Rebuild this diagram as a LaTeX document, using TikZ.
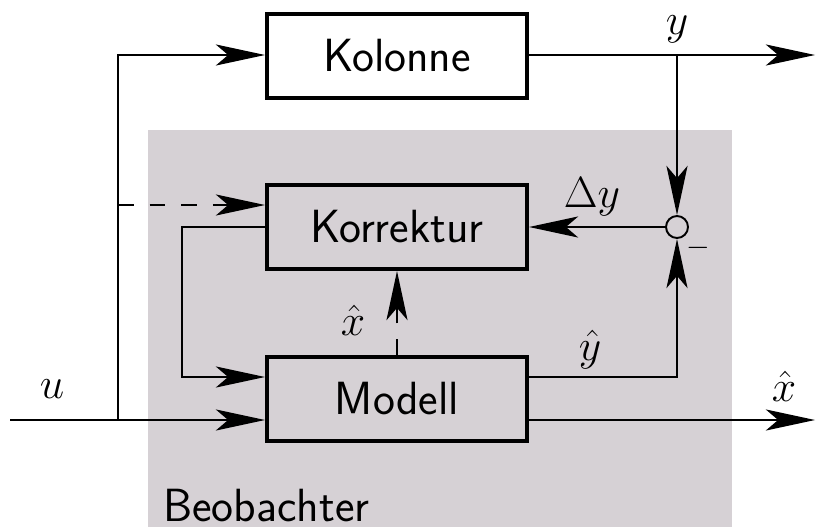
\documentclass[tikz,border=0pt]{standalone}
\usepackage{amsmath}
\usepackage{xcolor}
\usepackage{tikz}
\usetikzlibrary{arrows.meta,calc}
\definecolor{obsgray}{RGB}{214,209,213}

\begin{document}
\begin{tikzpicture}[x=0.02cm,y=-0.02cm,
	>={Stealth[length=28pt,width=12pt,inset=7pt]},
	font=\fontsize{26.5}{31}\selectfont,
	block/.style={draw,line width=2.3pt,minimum width=5.2cm,minimum height=1.68cm,font=\fontsize{26.5}{31}\selectfont\sffamily},
	sig/.style={line width=1.1pt},
	sigdash/.style={line width=1.1pt,dash pattern=on 9pt off 9pt},
	sumpoint/.style={circle,draw,line width=1.1pt,minimum size=0.44cm,inner sep=0pt}]
	\useasboundingbox (0,0) rectangle (817,527);
	\fill[obsgray] (148,130) rectangle (732,527);
	\node[anchor=base west,inner sep=0pt,font=\fontsize{26.5}{31}\selectfont\sffamily] (beob) at(163,521){Beobachter};
	\node[block,fill=white] (kolonne) at(397,56){Kolonne};
	\node[block] (korrektur) at(397,227){Korrektur};
	\node[block] (modell) at(397,399){Modell};
	\node[sumpoint] (sum) at(677,227){};
	\coordinate (start) at(10,420);
	\coordinate (branch) at(118,420);
	\coordinate (dashstart) at(118,205);
	\coordinate (fb) at(182,377);
	\coordinate (ybranch) at(677,55);
	\coordinate (yout) at(815,55);
	\coordinate (xout) at(815,420);
	\draw[sig] (start) -- (branch);
	\draw[sig,->] (branch) -- (modell.west |- branch);
	\draw[sig,->] (branch) |- (kolonne.west |- ybranch);
	\draw[sigdash,->] (dashstart) -- (korrektur.west |- dashstart);
	\draw[sig,->] (kolonne.east |- ybranch) -- (yout);
	\draw[sig,->] (ybranch) -- (sum.north);
	\draw[sig,->] (sum.west) -- (korrektur.east);
	\draw[sig,->] (korrektur.west) -| (fb) -- (modell.west |- fb);
	\draw[sig,->] (modell.east |- fb) -| (sum.south);
	\draw[sig,->] (modell.east |- branch) -- (xout);
	\draw[sigdash,->] (modell.north) -- (korrektur.south);
	\node (ulabel) at(52,389){$u$};
	\node (ylabel) at(677,29){$y$};
	\node (dylabel) at(592,197){$\Delta y$};
	\node[font=\fontsize{19}{22}\selectfont] (minus) at(698,248){$-$};
	\node (xhatmid) at(353,320){$\hat{x}$};
	\node (yhat) at(590,350){$\hat{y}$};
	\node (xhatout) at(784,386){$\hat{x}$};
\end{tikzpicture}
\end{document}
